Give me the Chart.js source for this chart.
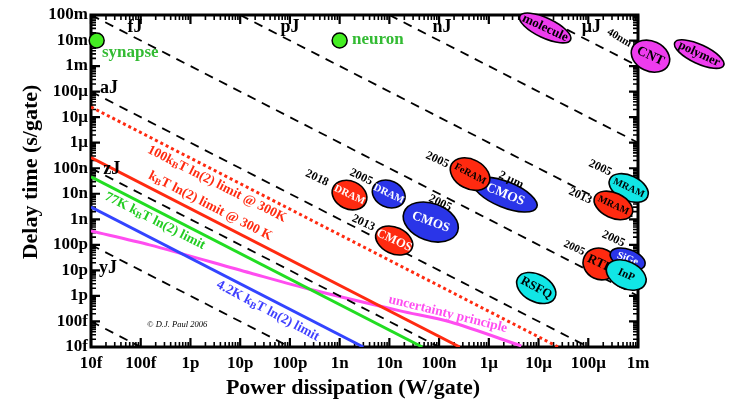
<!DOCTYPE html>
<html>
<head>
<meta charset="utf-8">
<script src="https://cdn.jsdelivr.net/npm/chart.js@4"></script>
<style>
  html, body { margin: 0; padding: 0; background: #fff; }
</style>
</head>
<body>
<canvas id="mycanvas" width="736" height="406"></canvas>
<script>
// axis ticks
const xTickValues = [1e-14, 1e-13, 1e-12, 1e-11, 1e-10, 1e-9, 1e-8, 1e-7, 1e-6, 1e-5, 1e-4, 1e-3];
const xTickLabels = ['10f', '100f', '1p', '10p', '100p', '1n', '10n', '100n', '1μ', '10μ', '100μ', '1m'];
const yTickValues = [1e-14, 1e-13, 1e-12, 1e-11, 1e-10, 1e-9, 1e-8, 1e-7, 1e-6, 1e-5, 1e-4, 1e-3, 1e-2, 1e-1];
const yTickLabels = ['10f', '100f', '1p', '10p', '100p', '1n', '10n', '100n', '1μ', '10μ', '100μ', '1m', '10m', '100m'];

// constant energy lines (dashed), where they meet the frame
const energyNames = ['', 'yJ', 'zJ', 'aJ', 'fJ', 'pJ', 'nJ', 'μJ'];
const energyStartP = [1e-14, 1e-14, 1e-14, 1e-14, 1e-14, 1e-11, 1e-8, 1e-5];
const energyStartT = [1e-13, 1e-10, 1e-7, 1e-4, 1e-1, 1e-1, 1e-1, 1e-1];
const energyEndP = [1e-13, 1e-10, 1e-7, 1e-4, 1e-3, 1e-3, 1e-3, 1e-3];
const energyEndT = [1e-14, 1e-14, 1e-14, 1e-14, 1e-12, 1e-9, 1e-6, 1e-3];

// kT ln(2) limits
const limitNames = ['100kT 300K', 'kT 300K', '77K kT', '4.2K kT'];
const limitStartP = [1e-14, 1e-14, 1e-14, 1e-14];
const limitStartT = [2.5e-5, 2.6e-7, 4.6e-8, 3e-9];
const limitEndP = [2.5e-5, 2.6e-7, 4.6e-8, 3e-9];
const limitEndT = [1e-14, 1e-14, 1e-14, 1e-14];

// uncertainty principle curve
const uncertP = [1e-14, 1.5e-13, 1.6e-11, 2.9e-10, 1.65e-8, 1.7e-7, 4.5e-6];
const uncertT = [3.5e-10, 1e-10, 7.9e-12, 1.7e-12, 2.6e-13, 9.5e-14, 1.1e-14];

// biology
const bioNames = ['synapse', 'neuron'];
const bioP = [1.3e-14, 1e-9];
const bioT = [1e-2, 1e-2];

// technologies (ellipses), in drawing order
const techNames = ['molecule', 'CNT', 'polymer', 'DRAM', 'DRAM', 'CMOS', 'CMOS', 'CMOS', 'FeRAM',
                   'MRAM', 'MRAM', 'RTD', 'SiGe', 'InP', 'RSFQ'];
const techP = [1.36e-5, 1.78e-3, 1.7e-2, 1.58e-9, 9.7e-9, 6.8e-8, 1.25e-8, 2.14e-6, 4.2e-7,
               6.5e-4, 3.2e-4, 1.74e-4, 6.2e-4, 5.8e-4, 9e-6];
const techT = [3.1e-2, 2.45e-3, 2.95e-3, 8.9e-9, 9.8e-9, 7.8e-10, 1.48e-10, 9.3e-9, 5.9e-8,
               1.68e-8, 3.5e-9, 1.78e-11, 2.8e-11, 6.6e-12, 2.04e-12];

// styles
const RED = '#ff2a10', BLUE = '#2a35e8', CYAN = '#11e6e6', MAG = '#ee3cee';
const techStyle = [
  {fill: MAG, a: 28, b: 10, rot: 25, tc: '#000', fs: 13},
  {fill: MAG, a: 20, b: 15, rot: 25, tc: '#000', fs: 13.5},
  {fill: MAG, a: 27, b: 9.5, rot: 25, tc: '#000', fs: 12.5},
  {fill: RED, a: 18, b: 14, rot: 25, tc: '#fff', fs: 10.5},
  {fill: BLUE, a: 17, b: 13.2, rot: 25, tc: '#fff', fs: 10.5},
  {fill: BLUE, a: 28.5, b: 18.6, rot: 20, tc: '#fff', fs: 13},
  {fill: RED, a: 19.5, b: 13.2, rot: 25, tc: '#fff', fs: 12.5},
  {fill: BLUE, a: 34, b: 12.9, rot: 22, tc: '#fff', fs: 13.5},
  {fill: RED, a: 21, b: 14.7, rot: 28, tc: '#000', fs: 10},
  {fill: CYAN, a: 20.8, b: 12.5, rot: 25, tc: '#000', fs: 10},
  {fill: RED, a: 20.5, b: 12.5, rot: 25, tc: '#000', fs: 10},
  {fill: RED, a: 17.5, b: 15.5, rot: 25, tc: '#000', fs: 13},
  {fill: BLUE, a: 18.3, b: 9.6, rot: 20, tc: '#fff', fs: 10.5},
  {fill: CYAN, a: 21, b: 13.6, rot: 25, tc: '#000', fs: 11},
  {fill: CYAN, a: 21, b: 13.6, rot: 28, tc: '#000', fs: 12.5}
];

// text notes: [text, P, t, angle, size, color, align, style]
const notes = [
  ['fJ', 7.7e-14, 3.4e-2, 0, 18, '#000', 'center', 'bold'],
  ['pJ', 1e-10, 3.4e-2, 0, 18, '#000', 'center', 'bold'],
  ['nJ', 1.15e-7, 3.4e-2, 0, 18, '#000', 'center', 'bold'],
  ['μJ', 1.15e-4, 3.4e-2, 0, 18, '#000', 'center', 'bold'],
  ['aJ', 2.3e-14, 1.4e-4, 0, 18, '#000', 'center', 'bold'],
  ['zJ', 2.6e-14, 9.3e-8, 0, 18, '#000', 'center', 'bold'],
  ['yJ', 2.2e-14, 1.24e-11, 0, 18, '#000', 'center', 'bold'],
  ['synapse', 1.66e-14, 3.5e-3, 0, 17, '#33bb33', 'left', 'bold'],
  ['neuron', 1.78e-9, 1.05e-2, 0, 17, '#33bb33', 'left', 'bold'],
  ['2018', 3.5e-10, 4.1e-8, 25, 12, '#000', 'center', 'bold'],
  ['2005', 2.7e-9, 4.5e-8, 25, 12, '#000', 'center', 'bold'],
  ['2005', 1.05e-7, 4.3e-9, 25, 12, '#000', 'center', 'bold'],
  ['2013', 3e-9, 7.2e-10, 25, 12, '#000', 'center', 'bold'],
  ['2005', 9.2e-8, 2.1e-7, 25, 12, '#000', 'center', 'bold'],
  ['2 μm', 2.8e-6, 3.5e-8, 25, 12, '#000', 'center', 'bold'],
  ['2005', 1.74e-4, 1.02e-7, 25, 12, '#000', 'center', 'bold'],
  ['2013', 6.9e-5, 8.2e-9, 25, 12, '#000', 'center', 'bold'],
  ['2005', 3.2e-4, 1.7e-10, 25, 12, '#000', 'center', 'bold'],
  ['2005', 5.2e-5, 7.5e-11, 25, 11, '#000', 'center', 'bold'],
  ['40nm', 4.2e-4, 1.26e-2, 30, 11, '#000', 'center', 'bold'],
  ['100k_BT ln(2) limit @ 300K', 3.4e-12, 2.4e-8, 27, 13.5, RED, 'center', 'bold'],
  ['k_BT ln(2) limit @ 300 K', 2.5e-12, 3.3e-9, 27, 13.5, RED, 'center', 'bold'],
  ['77K k_BT ln(2) limit', 1.94e-13, 8.6e-10, 27, 13.5, '#22cc22', 'center', 'bold'],
  ['4.2K k_BT ln(2) limit', 3.6e-11, 2.6e-13, 28, 13.5, '#3f3fff', 'center', 'bold'],
  ['uncertainty principle', 1.5e-7, 1.96e-13, 14, 13.5, '#ff4df0', 'center', 'bold'],
  ['© D.J. Paul 2006', 5.4e-13, 7.3e-14, 0, 8.5, '#000', 'center', 'italic']
];

const SERIF = '"Liberation Serif", "Times New Roman", serif';

function richText(ctx, str, x, y, angle, size, color, align, style) {
  const parts = str.split('_B');
  const segs = [];
  parts.forEach((p, i) => {
    if (i > 0) segs.push({t: 'B', sub: true});
    if (p) segs.push({t: p, sub: false});
  });
  const mainF = style + ' ' + size + 'px ' + SERIF;
  const subF = style + ' ' + (size * 0.7).toFixed(1) + 'px ' + SERIF;
  let w = 0;
  segs.forEach(s => { ctx.font = s.sub ? subF : mainF; s.w = ctx.measureText(s.t).width; w += s.w; });
  ctx.save();
  ctx.translate(x, y);
  ctx.rotate(angle * Math.PI / 180);
  ctx.fillStyle = color;
  ctx.textBaseline = 'middle';
  ctx.textAlign = 'left';
  let cx = align === 'left' ? 0 : -w / 2;
  segs.forEach(s => {
    ctx.font = s.sub ? subF : mainF;
    ctx.fillText(s.t, cx, s.sub ? size * 0.22 : 0);
    cx += s.w;
  });
  ctx.restore();
}

const framePlugin = {
  id: 'frame',
  beforeDatasetsDraw(chart) {
    const {ctx, chartArea: a, scales: {x, y}} = chart;
    ctx.save();
    ctx.strokeStyle = '#000';
    // inside ticks on all four sides
    for (let e = -14; e <= -1; e++) {
      for (let k = 1; k <= 9; k++) {
        const v = k * Math.pow(10, e);
        const len = k === 1 ? 9 : 5;
        ctx.lineWidth = k === 1 ? 2.2 : 1.6;
        if (v <= 1e-3 * 1.0001) {
          const px = x.getPixelForValue(v);
          ctx.beginPath();
          ctx.moveTo(px, a.bottom); ctx.lineTo(px, a.bottom - len);
          ctx.moveTo(px, a.top); ctx.lineTo(px, a.top + len);
          ctx.stroke();
        }
        if (v <= 1e-1 * 1.0001) {
          const py = y.getPixelForValue(v);
          ctx.beginPath();
          ctx.moveTo(a.left, py); ctx.lineTo(a.left + len, py);
          ctx.moveTo(a.right, py); ctx.lineTo(a.right - len, py);
          ctx.stroke();
        }
      }
    }
    ctx.lineWidth = 3;
    ctx.strokeRect(a.left, a.top, a.right - a.left, a.bottom - a.top);
    // axis titles
    ctx.fillStyle = '#000';
    ctx.font = 'bold 22px ' + SERIF;
    ctx.textAlign = 'center';
    ctx.textBaseline = 'middle';
    ctx.fillText('Power dissipation (W/gate)', 353, 388);
    ctx.save();
    ctx.translate(31, 172);
    ctx.rotate(-Math.PI / 2);
    ctx.fillText('Delay time (s/gate)', 0, 0);
    ctx.restore();
    ctx.restore();
  },
  afterDatasetsDraw(chart) {
    const {ctx, scales: {x, y}} = chart;
    techNames.forEach((name, i) => {
      const s = techStyle[i];
      const px = x.getPixelForValue(techP[i]);
      const py = y.getPixelForValue(techT[i]);
      ctx.save();
      ctx.beginPath();
      ctx.ellipse(px, py, s.a, s.b, s.rot * Math.PI / 180, 0, 2 * Math.PI);
      ctx.fillStyle = s.fill;
      ctx.fill();
      ctx.lineWidth = 1.6;
      ctx.strokeStyle = '#000';
      ctx.stroke();
      ctx.restore();
      richText(ctx, name, px, py, s.rot, s.fs, s.tc, 'center', 'bold');
    });
    notes.forEach(n => {
      richText(ctx, n[0], x.getPixelForValue(n[1]), y.getPixelForValue(n[2]), n[3], n[4], n[5], n[6], n[7]);
    });
  }
};

const datasets = [];
energyNames.forEach((n, i) => {
  datasets.push({
    label: n || 'E',
    data: [{x: energyStartP[i], y: energyStartT[i]}, {x: energyEndP[i], y: energyEndT[i]}],
    showLine: true, borderColor: '#000', borderWidth: 1.8, borderDash: [9, 7], pointRadius: 0
  });
});
const limitColors = [RED, RED, '#22dd22', '#3344ff'];
limitNames.forEach((n, i) => {
  datasets.push({
    label: n,
    data: [{x: limitStartP[i], y: limitStartT[i]}, {x: limitEndP[i], y: limitEndT[i]}],
    showLine: true, borderColor: limitColors[i], borderWidth: 3,
    borderDash: i === 0 ? [3, 3] : [], pointRadius: 0
  });
});
datasets.push({
  label: 'uncertainty principle',
  data: uncertP.map((p, i) => ({x: p, y: uncertT[i]})),
  showLine: true, borderColor: '#ff4df0', borderWidth: 3, tension: 0.3, pointRadius: 0
});
datasets.push({
  label: 'biology',
  data: bioP.map((p, i) => ({x: p, y: bioT[i]})),
  showLine: false, pointRadius: 7.5, pointBackgroundColor: '#44ee22',
  pointBorderColor: '#000', pointBorderWidth: 1.5, clip: false
});

const tickFont = {family: SERIF, size: 17, weight: 'bold'};

new Chart(document.getElementById('mycanvas').getContext('2d'), {
  type: 'scatter',
  data: {datasets: datasets},
  options: {
    responsive: false,
    animation: false,
    layout: {padding: {top: 15, right: 98, left: 0, bottom: 0}},
    plugins: {legend: {display: false}, tooltip: {enabled: false}},
    scales: {
      x: {
        type: 'logarithmic', min: 1e-14, max: 1e-3,
        grid: {display: false}, border: {display: false},
        afterBuildTicks: s => { s.ticks = xTickValues.map(v => ({value: v})); },
        afterFit: s => { s.height = 59; },
        ticks: {
          autoSkip: false, maxRotation: 0, padding: -2, color: '#000', font: tickFont,
          callback: (v, i) => xTickLabels[i]
        }
      },
      y: {
        type: 'logarithmic', min: 1e-14, max: 1e-1,
        grid: {display: false}, border: {display: false},
        afterBuildTicks: s => { s.ticks = yTickValues.map(v => ({value: v})); },
        afterFit: s => { s.width = 91; },
        ticks: {
          autoSkip: false, padding: -5, color: '#000', font: tickFont,
          callback: (v, i) => yTickLabels[i]
        }
      }
    }
  },
  plugins: [framePlugin]
});
</script>
</body>
</html>
